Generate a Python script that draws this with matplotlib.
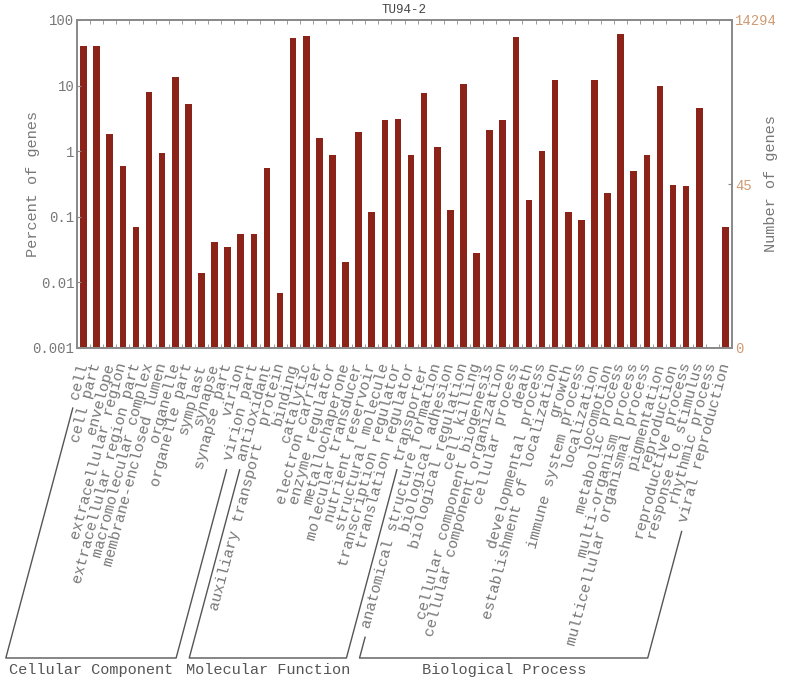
import numpy as np
import matplotlib
matplotlib.use("Agg")
import matplotlib.pyplot as plt
from matplotlib.lines import Line2D
from matplotlib.ticker import FixedLocator, NullLocator

# ---------------- data ----------------
cc_terms = ["cell", "cell part", "envelope", "extracellular region",
            "extracellular region part", "macromolecular complex",
            "membrane-enclosed lumen", "organelle", "organelle part",
            "symplast", "synapse", "synapse part", "virion", "virion part"]
cc_pct = [40.6, 40.6, 1.84, 0.60, 0.070, 8.1, 0.94, 13.4, 5.26,
          0.0139, 0.0416, 0.0345, 0.055, 0.055]

mf_terms = ["antioxidant", "auxiliary transport  protein", "binding",
            "catalytic", "electron carrier", "enzyme regulator",
            "metallochaperone", "molecular transducer", "nutrient reservoir",
            "structural molecule", "transcription regulator",
            "translation regulator", "transporter"]
mf_pct = [0.551, 0.0069, 53.8, 57.7, 1.61, 0.88, 0.0206, 1.99, 0.118,
          2.96, 3.07, 0.88, 7.64]

bp_terms = ["anatomical structure formation", "biological adhesion",
            "biological regulation", "cell killing",
            "cellular component biogenesis", "cellular component organization",
            "cellular process", "death", "developmental process",
            "establishment of localization", "growth", "immune system process",
            "localization", "locomotion", "metabolic process",
            "multi-organism process", "multicellular organismal process",
            "pigmentation", "reproduction", "reproductive process",
            "response to stimulus", "rhythmic process", "viral reproduction"]
bp_pct = [1.14, 0.125, 10.5, 0.0277, 2.09, 2.96, 54.5, 0.179, 1.0, 12.1,
          0.118, 0.090, 12.3, 0.229, 60.5, 0.502, 0.877, 9.77, 0.307, 0.290,
          4.62, 0.0, 0.0697]

group_names = ["Cellular Component", "Molecular Function", "Biological Process"]
group_terms = [cc_terms, mf_terms, bp_terms]
group_pct = [cc_pct, mf_pct, bp_pct]

total_genes = 14294
right_tick_counts = [14294, 45, 0]
left_ticks = [100, 10, 1, 0.1, 0.01, 0.001]
left_tick_labels = ["100", "10", "1", "0.1", "0.01", "0.001"]
title = "TU94-2"

# ---------------- style ----------------
FONT = "Liberation Mono"
plt.rcParams["font.family"] = [FONT, "DejaVu Sans Mono"]
BAR = "#8c2318"
GRAY = "#777777"
SPINE = "#8a8a8a"
TAN = "#cf9a72"
ANG = 75

W, H = 800, 682
fig = plt.figure(figsize=(W / 100, H / 100), dpi=100)
ax = fig.add_axes([77 / W, 1 - 348 / H, (732 - 77) / W, 328 / H])

terms = cc_terms + mf_terms + bp_terms
pct = np.array(cc_pct + mf_pct + bp_pct, dtype=float)
x = np.arange(len(terms))

ax.bar(x, pct, width=0.5, color=BAR, edgecolor="none")
ax.set_yscale("log")
ax.set_ylim(left_ticks[-1], left_ticks[0])
ax.set_xlim(-0.5, len(terms) - 0.5)

ax.set_yticks(left_ticks)
ax.set_yticklabels(left_tick_labels)
ax.yaxis.set_minor_locator(NullLocator())
ax.tick_params(axis="y", which="major", direction="in", length=3,
               colors=SPINE, labelcolor=GRAY, labelsize=10, pad=2)

ax.set_xticks(x)
ax.set_xticklabels(terms, rotation=ANG, ha="right", va="center",
                   rotation_mode="anchor", fontsize=11, color=GRAY)
ax.tick_params(axis="x", which="major", length=0, pad=11)
ax.xaxis.set_minor_locator(FixedLocator(x[:-1] + 0.5))
ax.tick_params(axis="x", which="minor", direction="in", length=3,
               top=True, bottom=True, color=SPINE)

for s in ax.spines.values():
    s.set_color(SPINE)
    s.set_linewidth(1.3)

ax.set_ylabel("Percent of genes", color=GRAY, fontsize=11)
ax.yaxis.set_label_coords((40 - 77) / 655, 0.5)

# right axis: number of genes
ax2 = ax.twinx()
ax2.set_yscale("log")
ax2.set_ylim(ax.get_ylim())
rpos = [c / total_genes * 100 if c > 0 else left_ticks[-1] for c in right_tick_counts]
ax2.set_yticks(rpos)
ax2.set_yticklabels([str(c) for c in right_tick_counts])
ax2.yaxis.set_minor_locator(NullLocator())
ax2.tick_params(axis="y", which="major", direction="in", length=3,
                colors=SPINE, labelcolor=TAN, labelsize=10, pad=2)
for s in ax2.spines.values():
    s.set_color(SPINE)
    s.set_linewidth(1.3)
ax2.set_ylabel("Number of genes", color=GRAY, fontsize=11, rotation=90)
ax2.yaxis.set_label_coords((764 - 77) / 655, 0.5)

ax.set_title(title, fontsize=9, color="#444444", pad=5)

# ---------------- group brackets ----------------
fig.canvas.draw()
renderer = fig.canvas.get_renderer()
labels = ax.get_xticklabels()
a = np.deg2rad(ANG)
c, s = np.cos(a), np.sin(a)
d = np.array([c, s])
det = c * c - s * s


def text_start(lbl):
    bb = lbl.get_window_extent(renderer)
    h = (c * bb.height - s * bb.width) / det
    return np.array([bb.x0 + h * s, bb.y0])


yb = H - 658
shift = np.array([-6.0, 0.0])
inv = fig.transFigure.inverted()

start = 0
for name, gt in zip(group_names, group_terms):
    i0, i1 = start, start + len(gt) - 1
    start += len(gt)
    top_l = text_start(labels[i0]) - 8 * d + shift
    top_r = text_start(labels[i1]) - 8 * d + shift
    bot_l = np.array([top_l[0] - (top_l[1] - yb) / np.tan(a), yb])
    bot_r = np.array([top_r[0] - (top_r[1] - yb) / np.tan(a), yb])
    pts = np.array([top_l, bot_l, bot_r, top_r])
    fp = inv.transform(pts)
    fig.add_artist(Line2D(fp[:, 0], fp[:, 1], color="#555555", lw=1.0))
    cx = (bot_l[0] + bot_r[0]) / 2
    fig.text(cx / W, 12 / H, name, ha="center", va="center",
             fontsize=11, color="#555555")

fig.savefig("out.png", dpi=100)
